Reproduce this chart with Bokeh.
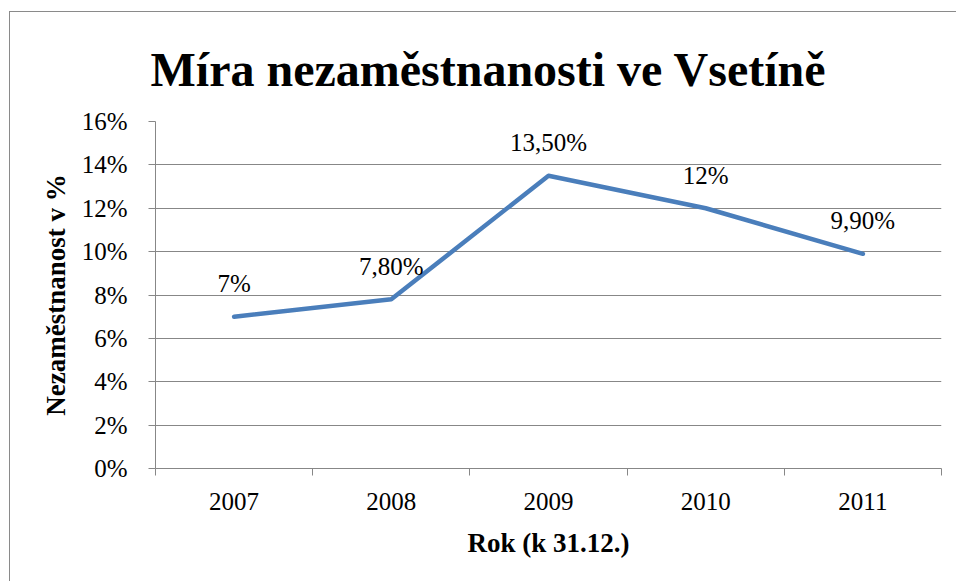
from bokeh.plotting import figure
from bokeh.models import Range1d, FixedTicker, NumeralTickFormatter, ColumnDataSource
from bokeh.core.properties import value
from bokeh.embed import file_html
from bokeh.resources import INLINE

years = ["2007", "2008", "2009", "2010", "2011"]
rates = [0.07, 0.078, 0.135, 0.12, 0.099]
labels = ["7%", "7,80%", "13,50%", "12%", "9,90%"]
y_ticks = [0, 0.02, 0.04, 0.06, 0.08, 0.10, 0.12, 0.14, 0.16]

FONT = "'Liberation Serif', 'Times New Roman', serif"
GRAY = "#878787"

xpos = [i + 0.5 for i in range(len(years))]
src = ColumnDataSource(dict(x=xpos, y=rates, lab=labels))

p = figure(width=947, height=570, output_backend="svg", toolbar_location=None,
           x_range=Range1d(0, len(years)), y_range=Range1d(0, 0.16),
           min_border_left=145, min_border_right=16, min_border_top=109, min_border_bottom=114,
           title="Míra nezaměstnanosti ve Vsetíně")
p.margin = (11, 0, 0, 9)
p.styles = {"border-left": "1px solid #8a8a8a", "border-top": "1px solid #8a8a8a"}
p.outline_line_color = None
p.background_fill_color = "white"
p.border_fill_color = "white"

p.title.text_font = FONT
p.title.text_font_size = "48px"
p.title.text_font_style = "bold"
p.title.align = "left"
p.title.offset = -5
p.title.standoff = 52
p.title.text_color = "black"

# x axis
xa = p.xaxis[0]
xa.ticker = FixedTicker(ticks=xpos, minor_ticks=list(range(len(years) + 1)))
xa.major_label_overrides = {x: y for x, y in zip(xpos, years)}
xa.major_tick_line_color = None
xa.minor_tick_in = 0
xa.minor_tick_out = 7
xa.minor_tick_line_color = GRAY
xa.axis_line_color = GRAY
xa.major_label_text_font = FONT
xa.major_label_text_font_size = "25px"
xa.major_label_text_color = "black"
xa.major_label_standoff = 17
xa.axis_label = "Rok (k 31.12.)"
xa.axis_label_text_font = FONT
xa.axis_label_text_font_size = "27px"
xa.axis_label_text_font_style = "bold"
xa.axis_label_text_color = "black"
xa.axis_label_standoff = 15

# y axis
ya = p.yaxis[0]
ya.ticker = FixedTicker(ticks=y_ticks)
ya.formatter = NumeralTickFormatter(format="0%")
ya.major_tick_in = 0
ya.major_tick_out = 7
ya.major_tick_line_color = GRAY
ya.minor_tick_line_color = None
ya.axis_line_color = GRAY
ya.major_label_text_font = FONT
ya.major_label_text_font_size = "25px"
ya.major_label_text_color = "black"
ya.major_label_standoff = 21
ya.axis_label = "Nezaměstnanost v %"
ya.axis_label_text_font = FONT
ya.axis_label_text_font_size = "27px"
ya.axis_label_text_font_style = "bold"
ya.axis_label_text_color = "black"
ya.axis_label_standoff = 8

p.xgrid.grid_line_color = None
p.ygrid.ticker = FixedTicker(ticks=y_ticks)
p.ygrid.grid_line_color = GRAY
p.ygrid.grid_line_width = 1

p.line("x", "y", source=src, line_color="#4A7EBB", line_width=4.5,
       line_join="round", line_cap="round")
p.text("x", "y", text="lab", source=src, text_font=value(FONT), text_font_size="25px",
       text_align="center", text_baseline="alphabetic", y_offset=-33, text_color="black")

open("out.html", "w").write(file_html(p, INLINE))
